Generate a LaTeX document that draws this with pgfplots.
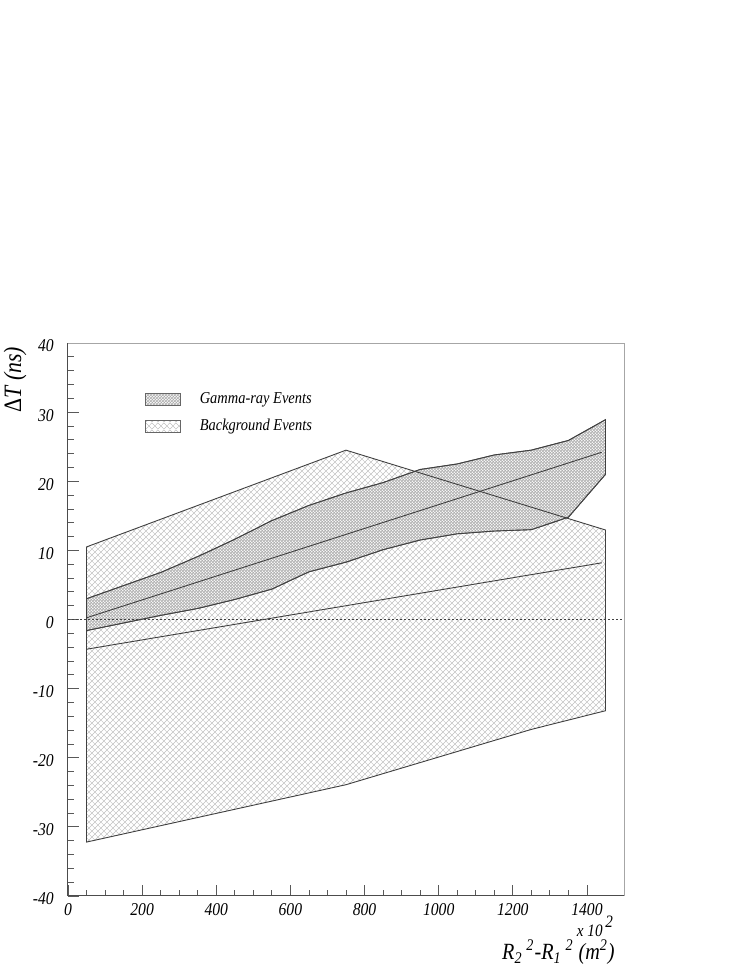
\documentclass[border=0pt]{standalone}
\usepackage{fontspec}
\setmainfont{Liberation Serif}[FakeStretch=0.87]
\usepackage{pgfplots}
\pgfplotsset{compat=1.18}
\usetikzlibrary{patterns}

% diagonal cross-hatching, coarse for background, fine for gamma
\pgfdeclarepatternformonly{bgcross}{\pgfpointorigin}{\pgfqpoint{3.2pt}{3.2pt}}{\pgfqpoint{3.2pt}{3.2pt}}{
  \pgfsetlinewidth{0.25pt}
  \pgfpathmoveto{\pgfqpoint{-0.2pt}{-0.2pt}}\pgfpathlineto{\pgfqpoint{3.4pt}{3.4pt}}
  \pgfpathmoveto{\pgfqpoint{-0.2pt}{3.4pt}}\pgfpathlineto{\pgfqpoint{3.4pt}{-0.2pt}}
  \pgfusepath{stroke}}
\pgfdeclarepatternformonly{gmcross}{\pgfpointorigin}{\pgfqpoint{1.4pt}{1.4pt}}{\pgfqpoint{1.4pt}{1.4pt}}{
  \pgfsetlinewidth{0.3pt}
  \pgfpathmoveto{\pgfqpoint{-0.1pt}{-0.1pt}}\pgfpathlineto{\pgfqpoint{1.5pt}{1.5pt}}
  \pgfpathmoveto{\pgfqpoint{-0.1pt}{1.5pt}}\pgfpathlineto{\pgfqpoint{1.5pt}{-0.1pt}}
  \pgfusepath{stroke}}

\begin{document}
\begin{tikzpicture}
\useasboundingbox (-34pt,-35.5pt) rectangle (339.5pt,448pt);
\begin{axis}[
    at={(0,0)}, anchor=south west,
    scale only axis,
    width=278pt, height=276.5pt,
    xmin=0, xmax=1500, ymin=-40, ymax=40,
    clip=false,
    axis x line*=bottom, axis y line*=left,
    axis line style={black!70, line width=0.5pt},
    xtick={0,200,...,1400}, ytick={-40,-30,...,40},
    minor x tick num=3, minor y tick num=4,
    tick align=inside,
    major tick length=5.3pt, minor tick length=2.8pt,
    tick style={black!65, line width=0.4pt},
    /pgf/number format/assume math mode=true,
    /pgf/number format/1000 sep={},
    xticklabel style={font=\fontsize{9}{10}\selectfont\itshape},
    yticklabel style={font=\fontsize{9}{10}\selectfont\itshape, xshift=-3.6pt, yshift=-1.5pt},
    xlabel={\textit{R\textsubscript{2}\,\textsuperscript{2}-R\textsubscript{1}\,\textsuperscript{2} (m\textsuperscript{2})}},
    xlabel style={font=\fontsize{11.6}{14}\selectfont, at={(rel axis cs:0.996,0)}, anchor=base east, yshift=-31.8pt},
    ylabel={\textup{Δ}\textit{T (ns)}},
    ylabel style={font=\fontsize{12.5}{15}\selectfont, at={(rel axis cs:-0.095,1.006)}, anchor=east},
    legend image code/.code={\path[draw=none, fill=none] (0pt,-3pt) rectangle (27pt,3pt);
      \draw[#1, draw=black!60, line width=0.4pt] (0pt,-3pt) rectangle (17.5pt,3pt);},
    legend style={draw=none, fill=none, at={(rel axis cs:0.1385,0.912)}, anchor=north west,
      inner sep=0pt, font=\fontsize{8.3}{10}\selectfont\itshape,
      nodes={inner sep=0pt}, row sep=6.5pt},
    legend cell align=left,
]
% background events band
\addplot[draw=none, pattern=bgcross, pattern color=black!25, forget plot] coordinates {
  (50,10.5) (750,24.5) (1450,12.95) (1450,-13.2) (1250,-15.9) (750,-23.9) (50,-32.2)} -- cycle;
% gamma-ray events band
\addplot[preaction={fill=white}, pattern=gmcross, pattern color=black!32,
  draw=black!75, line width=0.45pt, forget plot] coordinates {
  (50,3.0) (150,4.9) (250,6.8) (350,9.1) (450,11.6) (550,14.3) (650,16.5) (750,18.3)
  (850,19.8) (950,21.7) (1050,22.5) (1150,23.8) (1250,24.5) (1350,25.9) (1450,28.9)
  (1450,21.0) (1350,14.8) (1250,13.0) (1150,12.8) (1050,12.4) (950,11.5) (850,10.1)
  (750,8.3) (650,6.9) (550,4.4) (450,2.9) (350,1.6) (250,0.6) (150,-0.5) (50,-1.6)} -- cycle;
% background outline
\addplot[draw=black!75, line width=0.45pt, forget plot] coordinates {
  (50,10.5) (750,24.5) (1450,12.95) (1450,-13.2) (1250,-15.9) (750,-23.9) (50,-32.2)} -- cycle;
% centre lines
\addplot[black!75, line width=0.45pt, forget plot] coordinates {(50,0.25) (1440,24.2)};
\addplot[black!75, line width=0.45pt, forget plot] coordinates {(50,-4.3) (1440,8.2)};
% zero line
\addplot[black!75, line width=0.45pt, dash pattern=on 0.8pt off 1.2pt, forget plot] coordinates {(0,0) (1500,0)};

\addlegendimage{pattern=gmcross, pattern color=black!32}
\addlegendentry{Gamma-ray Events}
\addlegendimage{pattern=bgcross, pattern color=black!25}
\addlegendentry{Background Events}

\draw[black!35, line width=0.5pt] (rel axis cs:0,1) -- (rel axis cs:1,1) -- (rel axis cs:1,0);
\node[anchor=base east, font=\fontsize{8.7}{10}\selectfont\itshape, inner sep=0pt]
  at (rel axis cs:0.981,0) [yshift=-20.5pt] {x 10\,\raisebox{5pt}{2}};
\end{axis}
\end{tikzpicture}
\end{document}
